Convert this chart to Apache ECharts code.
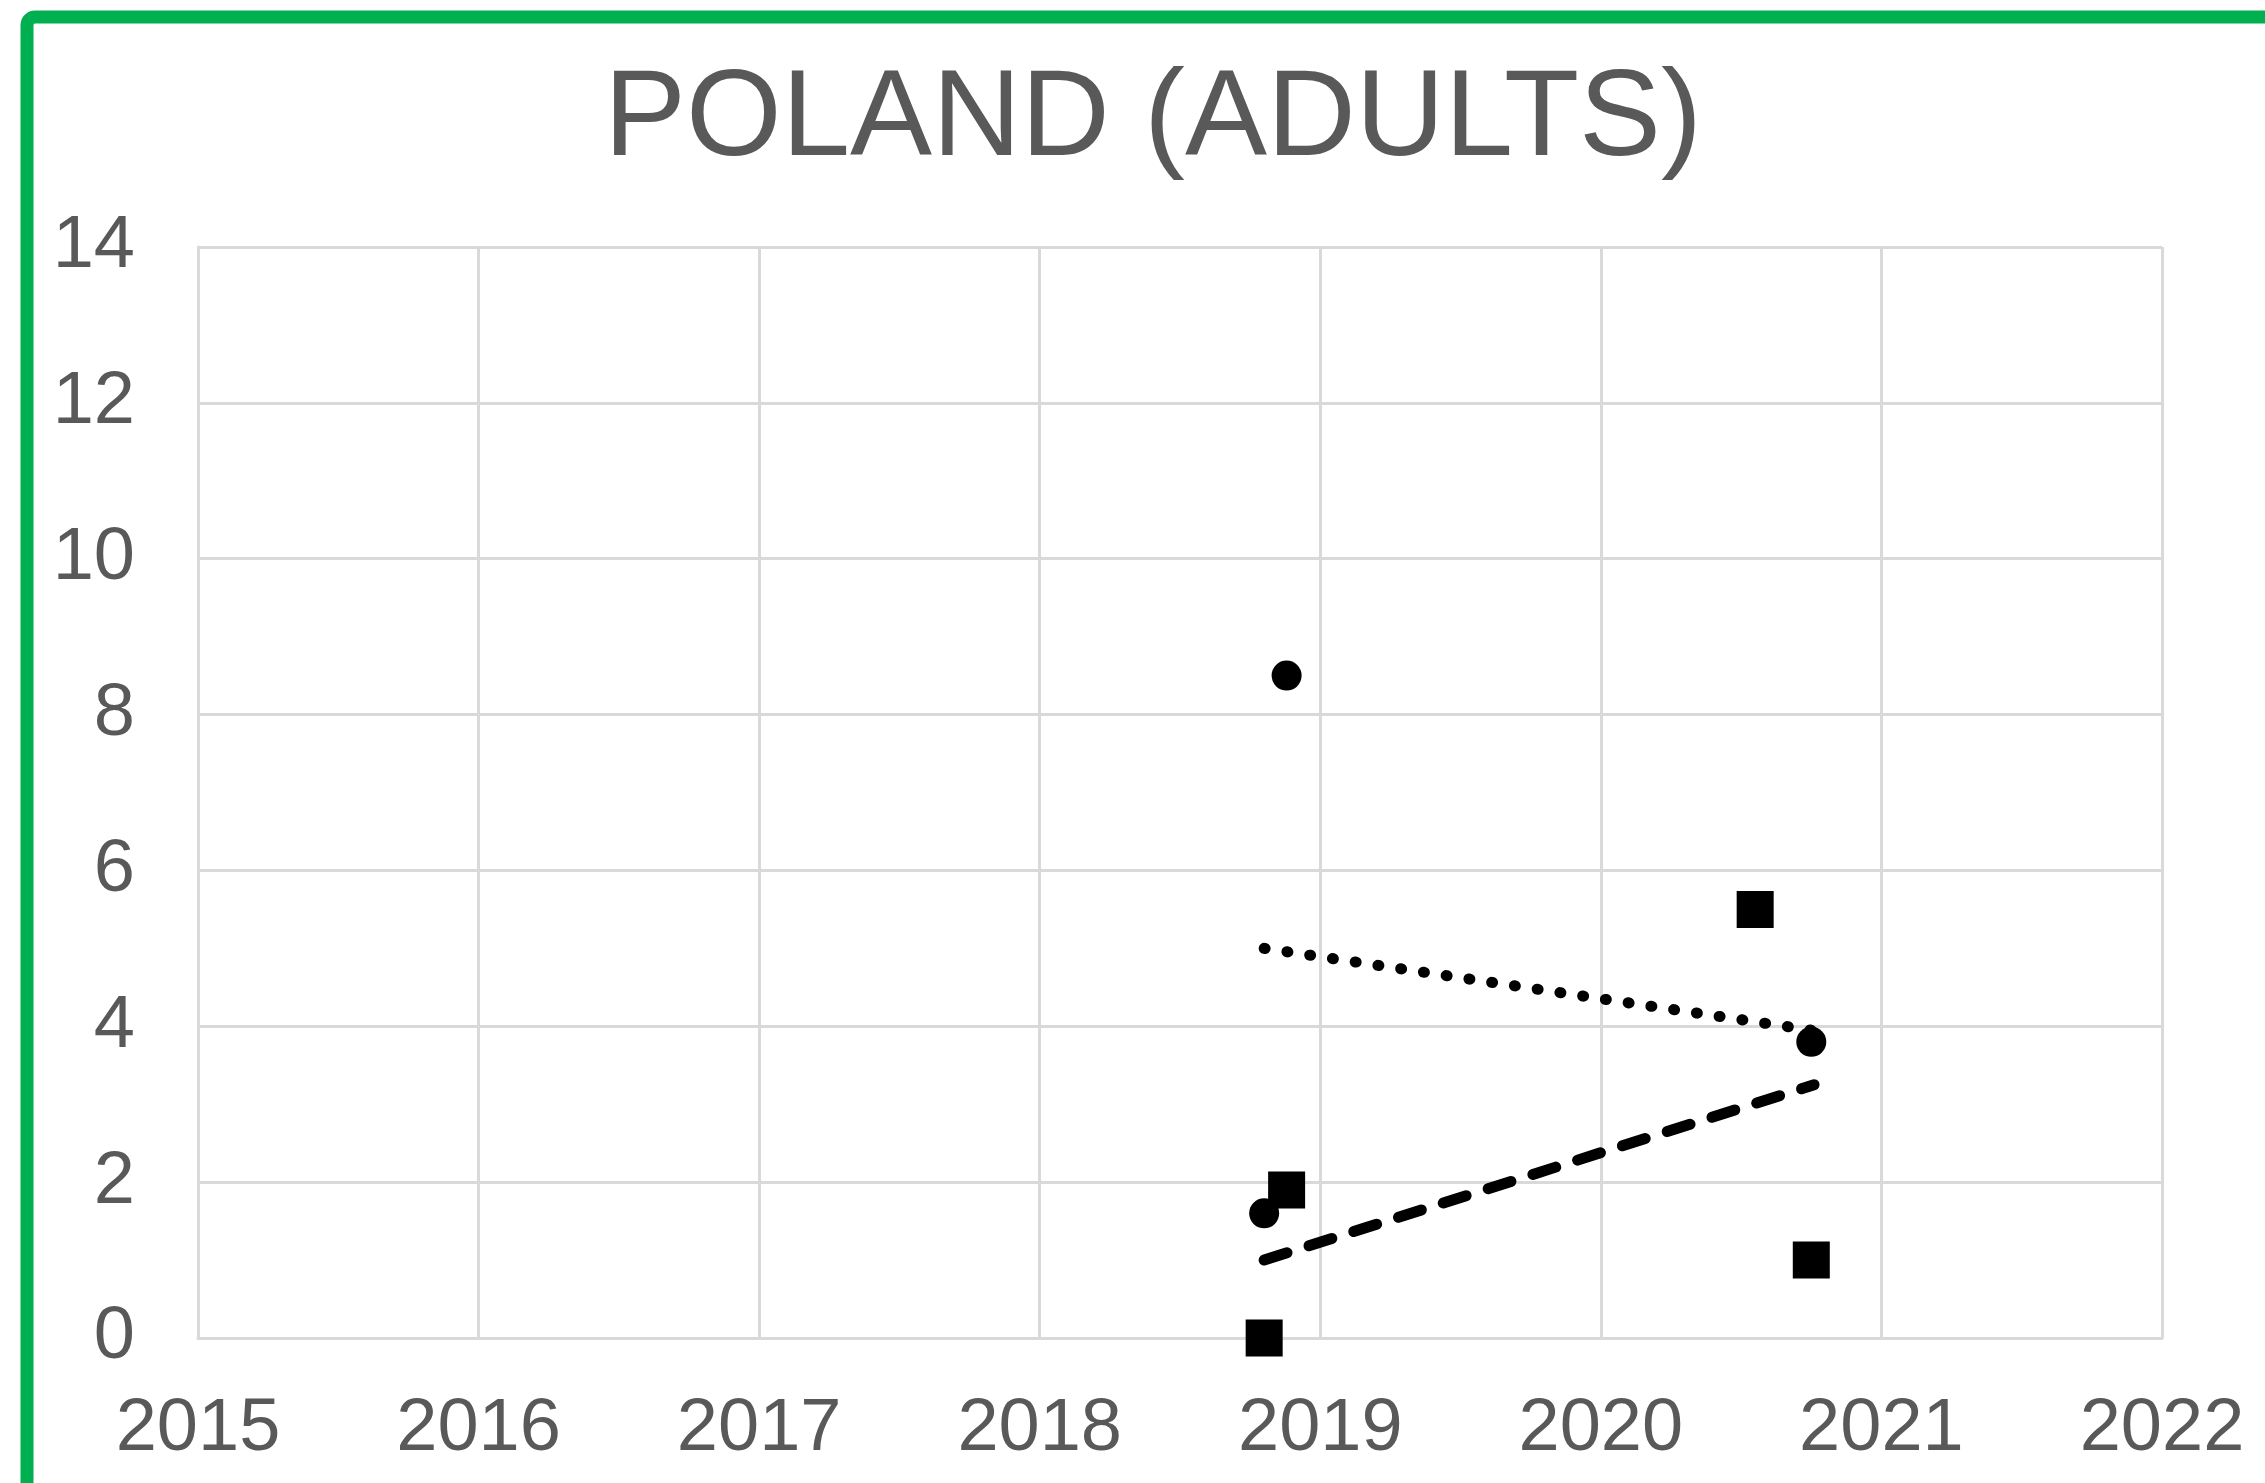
<!DOCTYPE html>
<html>
<head>
<meta charset="utf-8">
<style>
html,body{margin:0;padding:0;background:#fff;}
#chart{width:2265px;height:1483px;}
</style>
<script src="https://cdn.jsdelivr.net/npm/echarts@6/dist/echarts.min.js"></script>
</head>
<body>
<div id="chart"></div>
<script>
// Data
const titleText = 'POLAND (ADULTS)';
const circleX = [2018.80, 2018.88, 2020.75];
const circleY = [1.6, 8.5, 3.8];
const squareX = [2018.80, 2018.88, 2020.55, 2020.75];
const squareY = [0, 1.9, 5.5, 1.0];
const trendCircleX = [2018.80, 2020.75];
const trendCircleY = [5.0, 3.95];
const trendSquareX = [2018.80, 2020.76];
const trendSquareY = [1.0, 3.25];
const xMin = 2015, xMax = 2022, xStep = 1;
const yMin = 0, yMax = 14, yStep = 2;

const pairs = (xs, ys) => xs.map((x, i) => [x, ys[i]]);
const FONT = 'Liberation Sans, Arial, sans-serif';
const TXT = '#595959';
const GRID = '#d9d9d9';

const chart = echarts.init(document.getElementById('chart'));
chart.setOption({
  backgroundColor: '#ffffff',
  animation: false,
  graphic: [{
    type: 'rect',
    shape: { x: 27, y: 17, width: 3000, height: 3000, r: 8 },
    style: { fill: 'none', stroke: '#00B050', lineWidth: 13 },
    z: 100
  }],
  title: {
    text: titleText,
    left: 599,
    top: 55,
    textStyle: { fontFamily: FONT, fontSize: 123, fontWeight: 'normal', color: TXT }
  },
  grid: { left: 198, right: 103, top: 247, bottom: 145, containLabel: false },
  xAxis: {
    type: 'value', min: xMin, max: xMax, interval: xStep,
    axisLine: { show: true, lineStyle: { color: GRID, width: 3 } },
    axisTick: { show: false },
    splitLine: { show: true, lineStyle: { color: GRID, width: 3 } },
    axisLabel: { fontFamily: FONT, fontSize: 74, color: TXT, margin: 55, formatter: v => String(v) }
  },
  yAxis: {
    type: 'value', min: yMin, max: yMax, interval: yStep,
    axisLine: { show: true, lineStyle: { color: GRID, width: 3 } },
    axisTick: { show: false },
    splitLine: { show: true, lineStyle: { color: GRID, width: 3 } },
    axisLabel: { fontFamily: FONT, fontSize: 74, color: TXT, margin: 63 }
  },
  series: [
    {
      type: 'line', data: pairs(trendCircleX, trendCircleY), symbol: 'none',
      lineStyle: { color: '#000', width: 11, type: [1, 22], cap: 'round' }, z: 2
    },
    {
      type: 'line', data: pairs(trendSquareX, trendSquareY), symbol: 'none',
      lineStyle: { color: '#000', width: 11, type: [24, 23], cap: 'round' }, z: 2
    },
    {
      type: 'scatter', data: pairs(circleX, circleY), symbol: 'circle', symbolSize: 30,
      itemStyle: { color: '#000', opacity: 1 }, clip: false, z: 3
    },
    {
      type: 'scatter', data: pairs(squareX, squareY), symbol: 'rect', symbolSize: 37,
      itemStyle: { color: '#000', opacity: 1 }, clip: false, z: 3
    }
  ]
});
</script>
</body>
</html>
